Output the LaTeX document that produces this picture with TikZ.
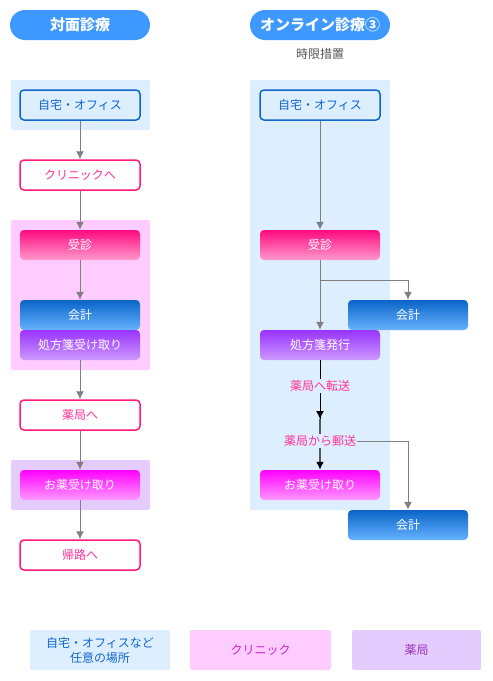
\documentclass[tikz,border=0pt]{standalone}
\usepackage{fontspec}
\setmainfont{Noto Sans CJK JP}
\usetikzlibrary{arrows.meta}
\definecolor{titleblue}{HTML}{3D99FF}
\definecolor{homebg}{HTML}{DDEEFF}
\definecolor{homeblue}{HTML}{1166CC}
\definecolor{clinicbg}{HTML}{FFCCFF}
\definecolor{pharmbg}{HTML}{E5CCFF}
\definecolor{gopink}{HTML}{FF1A80}
\definecolor{labelpink}{HTML}{FF3399}
\definecolor{arrowgray}{HTML}{808080}
\definecolor{notegray}{HTML}{555555}
\definecolor{clinictext}{HTML}{CC22CC}
\definecolor{pharmtext}{HTML}{9933BB}
\definecolor{examtop}{HTML}{FF0A80}
\definecolor{exambot}{HTML}{FF99CC}
\definecolor{paytop}{HTML}{0A64C8}
\definecolor{paybot}{HTML}{66B3FF}
\definecolor{presctop}{HTML}{9933FF}
\definecolor{prescbot}{HTML}{CC99FF}
\definecolor{medtop}{HTML}{FF00FF}
\definecolor{medbot}{HTML}{FF99FF}
\begin{document}
\begin{tikzpicture}[x=1pt,y=-1pt,
    box/.style={rounded corners=4pt,minimum width=120pt,minimum height=30pt,inner sep=0pt,font=\fontsize{12}{14}\selectfont},
    homebox/.style={box,draw=homeblue,line width=1.5pt,fill=homebg,text=homeblue},
    gobox/.style={box,draw=gopink,line width=1.5pt,fill=white,text=labelpink},
    grad/.style={box,top color=#1top,bottom color=#1bot,text=white},
    titlebox/.style={rounded corners=15pt,fill=titleblue,minimum width=140pt,minimum height=30pt,inner sep=0pt,text=white,font=\fontsize{15}{17}\selectfont\bfseries},
    legendbox/.style={rounded corners=2pt,minimum height=40pt,inner sep=0pt,align=center,font=\fontsize{12}{15}\selectfont},
    steplabel/.style={fill=homebg,inner sep=1pt,text=labelpink,font=\fontsize{12}{14}\selectfont},
    flow/.style={->,draw=arrowgray,line width=1pt},
    postline/.style={draw=black!65,line width=1.6pt}]
    \tikzset{>={Latex[length=8pt,width=8pt]}}
    \useasboundingbox (0,0) rectangle (493,681);

    % backgrounds
    \fill[homebg,rounded corners=2pt] (11,80) rectangle (150,130);
    \fill[clinicbg,rounded corners=2pt] (11,220) rectangle (150,370);
    \fill[pharmbg,rounded corners=2pt] (11,460) rectangle (150,510);
    \fill[homebg,rounded corners=2pt] (250,80) rectangle (390,510);

    % titles
    \node[titlebox] (t1) at (80,25) {対面診療};
    \node[titlebox] (t2) at (320,25) {オンライン診療③};
    \node[text=notegray,font=\fontsize{12}{14}\selectfont] (note) at (320,54) {時限措置};

    % left column
    \node[homebox] (lhome) at (80,105) {自宅・オフィス};
    \node[gobox] (lclinic) at (80,175) {クリニックへ};
    \node[grad=exam] (lexam) at (80,245) {受診};
    \node[grad=pay] (lpay) at (80,315) {会計};
    \node[grad=presc] (lpresc) at (80,345) {処方箋受け取り};
    \node[gobox] (lpharm) at (80,415) {薬局へ};
    \node[grad=med] (lmed) at (80,485) {お薬受け取り};
    \node[gobox] (lback) at (80,555) {帰路へ};

    \draw[flow] (lhome) -- (lclinic);
    \draw[flow] (lclinic) -- (lexam);
    \draw[flow] (lexam) -- (lpay);
    \draw[flow] (lpresc) -- (lpharm);
    \draw[flow] (lpharm) -- (lmed);
    \draw[flow] (lmed) -- (lback);

    % right column
    \node[homebox] (rhome) at (320,105) {自宅・オフィス};
    \node[grad=exam] (rexam) at (320,245) {受診};
    \node[grad=pay] (rpay) at (408,315) {会計};
    \node[grad=presc] (rpresc) at (320,345) {処方箋発行};
    \node[grad=med] (rmed) at (320,485) {お薬受け取り};
    \node[grad=pay] (rpay2) at (408,525) {会計};
    \coordinate (split) at (320,280);
    \coordinate (tip) at (320,419);

    \draw[flow] (rhome) -- (rexam);
    \draw[flow] (rexam) -- (rpresc);
    \draw[flow] (split) -| (rpay.north);
    \draw[line width=1pt] (rpresc) -- (tip);
    \draw[postline] (tip) -- (320,441);
    \draw[postline,-{Latex[length=8pt,width=8pt,color=black]}] (320,441) -- (rmed);
    \draw[->,line width=1pt] (320,400) -- (tip);
    \node[steplabel] (transfer) at (320,386) {薬局へ転送};
    \node[steplabel] (mail) at (320,441) {薬局から郵送};
    \draw[flow] (mail.east) -| (rpay2.north);

    % legend
    \node[legendbox,fill=homebg,text=homeblue,minimum width=140pt] (lg1) at (100,650) {自宅・オフィスなど\\任意の場所};
    \node[legendbox,fill=clinicbg,text=clinictext,minimum width=141pt] (lg2) at (260.5,650) {クリニック};
    \node[legendbox,fill=pharmbg,text=pharmtext,minimum width=129pt] (lg3) at (416.5,650) {薬局};
\end{tikzpicture}
\end{document}
